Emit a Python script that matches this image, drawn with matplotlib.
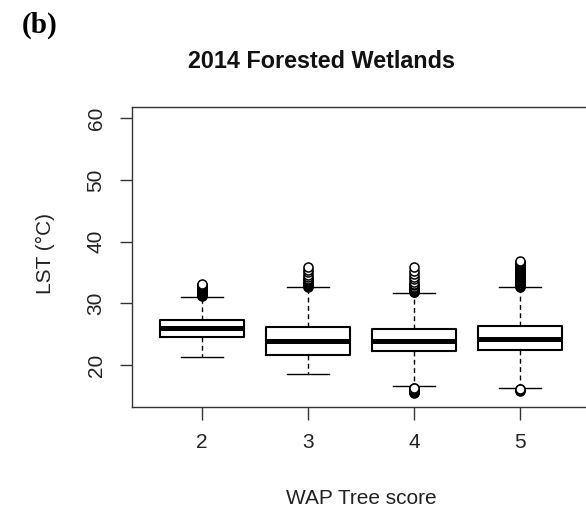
import matplotlib
matplotlib.use("Agg")
import matplotlib.pyplot as plt

# WAP Tree score groups and LST (°C) summary statistics
scores = [2, 3, 4, 5]
whisker_low = [21.25, 18.6, 16.6, 16.2]
q1 = [24.6, 21.7, 22.2, 22.4]
median = [26.0, 23.95, 23.95, 24.2]
q3 = [27.3, 26.1, 25.9, 26.3]
whisker_high = [31.1, 32.6, 31.7, 32.6]
outliers = [
    [31.2, 31.3, 31.4, 31.5, 31.6, 31.7, 31.8, 31.9, 32.0, 32.1,
     32.2, 32.3, 32.4, 32.5, 32.6, 32.7, 32.8, 32.9, 33.0, 33.1],
    [32.7, 32.8, 32.9, 33.0, 33.1, 33.2, 33.3, 33.4, 33.6, 33.8,
     34.0, 34.3, 34.6, 35.0, 35.4, 35.9],
    [31.8, 31.9, 32.0, 32.1, 32.2, 32.3, 32.5, 32.7, 32.9, 33.2,
     33.5, 33.9, 34.3, 34.8, 35.3, 35.9,
     15.5, 15.6, 15.7, 15.8, 15.9, 16.0, 16.1, 16.2, 16.3],
    [32.7, 32.8, 32.9, 33.0, 33.1, 33.2, 33.3, 33.4, 33.5, 33.6,
     33.7, 33.8, 33.9, 34.0, 34.1, 34.2, 34.3, 34.4, 34.5, 34.6,
     34.7, 34.8, 34.9, 35.0, 35.1, 35.2, 35.3, 35.4, 35.5, 35.6,
     35.7, 35.8, 35.9, 36.0, 36.1, 36.2, 36.3, 36.4, 36.5, 36.6,
     36.7, 36.8,
     15.85, 15.95, 16.05, 16.1],
]

title = "2014 Forested Wetlands"
xlabel = "WAP Tree score"
ylabel = "LST (°C)"
yticks = [20, 30, 40, 50, 60]

sans = ["Liberation Sans", "DejaVu Sans"]

fig = plt.figure(figsize=(5.86, 5.13), dpi=100)
ax = fig.add_axes([132 / 586, 1 - 407 / 513, 458 / 586, 300 / 513])

stats = []
for i in range(len(scores)):
    stats.append(dict(
        med=median[i], q1=q1[i], q3=q3[i],
        whislo=whisker_low[i], whishi=whisker_high[i],
        fliers=outliers[i],
    ))

ax.bxp(
    stats, positions=scores, widths=0.8, showfliers=True,
    boxprops=dict(color="black", linewidth=1.5),
    medianprops=dict(color="black", linewidth=3.6, solid_capstyle="butt"),
    whiskerprops=dict(color="black", linewidth=1.0, linestyle=(0, (3.5, 2.5))),
    capprops=dict(color="black", linewidth=1.0),
    capwidths=0.4,
    flierprops=dict(marker="o", markersize=6.5, markerfacecolor="white",
                    markeredgecolor="black", markeredgewidth=1.1,
                    linestyle="none"),
)

ax.set_xlim(1.34, 5.66)
ax.set_ylim(13.2, 61.8)
ax.set_xticks(scores)
ax.set_xticklabels([str(s) for s in scores])
ax.set_yticks(yticks)
ax.set_yticklabels([str(t) for t in yticks], rotation=90, va="center")

for sp in ax.spines.values():
    sp.set_color("#333333")
    sp.set_linewidth(1.0)

ax.tick_params(axis="both", length=9, width=1.0, color="#333333",
               labelsize=15, labelcolor="#222222")
ax.tick_params(axis="x", pad=10)
ax.tick_params(axis="y", pad=10)
for lab in ax.get_xticklabels() + ax.get_yticklabels():
    lab.set_fontfamily(sans)

fig.text(45 / 586, 1 - 254 / 513, ylabel, rotation=90, ha="center",
         va="center", fontsize=15, color="#222222", family=sans)
fig.text(361 / 586, 1 - 499 / 513, xlabel, ha="center", va="center",
         fontsize=15, color="#222222", family=sans)
fig.text(321 / 586, 1 - 61 / 513, title, ha="center", va="center",
         fontsize=16.8, fontweight="bold", color="#111111", family=sans)
fig.text(22 / 586, 1 - 25 / 513, "(b)", ha="left", va="center",
         fontsize=21, fontweight="bold", color="black",
         family=["Liberation Serif", "DejaVu Serif"])

fig.savefig("out.png", dpi=100)
